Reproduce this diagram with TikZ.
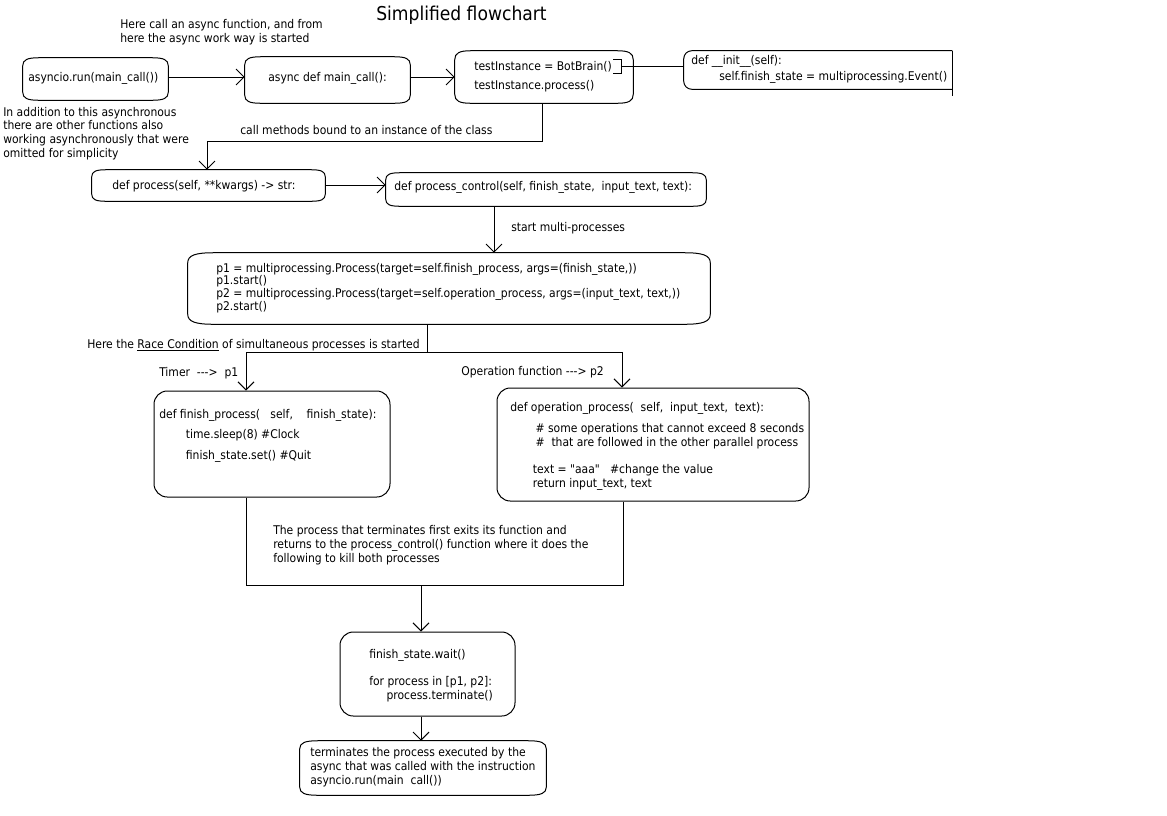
\documentclass[tikz,border=0pt]{standalone}
\usepackage{fontspec}
\setmainfont{DejaVu Sans Condensed}
\usetikzlibrary{arrows.meta,fit}
\newcommand\mlines[2]{\vtop{\baselineskip=#1\lineskiplimit=-10pt\halign{##\hfil\cr#2\crcr}}}
\newcommand\gap[1]{\noalign{\vskip#1}}
\newcommand\dq{\XeTeXglyph\XeTeXglyphindex "quotedbl"\relax}
\newcommand\softbox[3]{%
  \draw[conn] ([shift={(0,#3)}]#1.north west)
    .. controls ([shift={(0,{#3*0.25})}]#1.north west) and ([shift={({#2*0.3},0)}]#1.north west) .. ([shift={(#2,0)}]#1.north west)
    -- ([shift={(-#2,0)}]#1.north east)
    .. controls ([shift={({-#2*0.3},0)}]#1.north east) and ([shift={(0,{#3*0.25})}]#1.north east) .. ([shift={(0,#3)}]#1.north east)
    -- ([shift={(0,-#3)}]#1.south east)
    .. controls ([shift={(0,{-#3*0.25})}]#1.south east) and ([shift={({-#2*0.3},0)}]#1.south east) .. ([shift={(-#2,0)}]#1.south east)
    -- ([shift={(#2,0)}]#1.south west)
    .. controls ([shift={({#2*0.3},0)}]#1.south west) and ([shift={(0,{-#3*0.25})}]#1.south west) .. ([shift={(0,-#3)}]#1.south west)
    -- cycle;}
\tikzset{
  px/.style={x=0.75pt,y=-0.75pt},
  ghost/.style={inner sep=0pt},
  bigbox/.style={draw,line width=0.75pt,rounded corners=10pt,inner sep=0pt},
  txt/.style={inner sep=0pt,anchor=base west,font=\fontsize{9pt}{10.5pt}\selectfont},
  conn/.style={line width=0.75pt},
  arr/.style={line width=0.75pt,-{Straight Barb[length=6pt,width=12pt,line width=0.75pt]}},
}
\begin{document}
\begin{tikzpicture}[px]
\useasboundingbox (0,0) rectangle (1167,815);
% title
\node[inner sep=0pt,anchor=base west,font=\fontsize{14.3pt}{16pt}\selectfont] (title) at (376,20) {Simplified flowchart};
% annotations
\node[txt] (ann1) at (120,28) {\mlines{10.5pt}{Here call an async function, and from\cr here the async work way is started}};
\node[txt] (ann2) at (3,116) {\mlines{10.3pt}{In addition to this asynchronous\cr there are other functions also\cr working asynchronously that were\cr omitted for simplicity}};
% boxes
\node[ghost,fit={(23,58) (168,100)}] (run) {};
\softbox{run}{16}{8}
\node[txt] (runt) at (28,81) {asyncio.run(main\_call())};
\node[ghost,fit={(245,57) (410,103)}] (main) {};
\softbox{main}{16}{8}
\node[txt] (maint) at (268,81) {async def main\_call():};
\node[ghost,fit={(455,51) (633,103)}] (inst) {};
\softbox{inst}{16}{9}
\node[txt] (instt) at (474,70) {\mlines{14.25pt}{testInstance = BotBrain()\cr testInstance.process()}};
\node[ghost,fit={(684,51) (952,89)}] (init) {};
\draw[conn,rounded corners=6pt] (init.north east) -- (init.north west) -- (init.south west) -- (init.south east);
\draw[conn] (init.north east) -- ([yshift=-5pt]init.south east);
\node[txt] (initt) at (691,64) {\mlines{12pt}{def \_\_init\_\_(self):\cr \hspace*{21pt}self.finish\_state = multiprocessing.Event()}};
% bracket
\coordinate (br) at (621,66);
\draw[conn] (613,59) -- (621,59) -- (621,73) -- (613,73);
\draw[conn] (br) -- (br -| init.west);
\node[ghost,fit={(92,170) (325,201)}] (proc) {};
\softbox{proc}{14}{7}
\node[txt] (proct) at (112,189) {def process(self, **kwargs) -> str:};
\node[ghost,fit={(386,173) (706,206)}] (ctrl) {};
\softbox{ctrl}{14}{7}
\node[txt] (ctrlt) at (394,190) {def process\_control(self, finish\_state,~ input\_text, text):};
\node[ghost,fit={(188,253) (710,324)}] (mp) {};
\softbox{mp}{26}{10}
\node[txt] (mpt) at (216,272) {\mlines{9.5pt}{p1 = multiprocessing.Process(target=self.finish\_process, args=(finish\_state,))\cr p1.start()\cr p2 = multiprocessing.Process(target=self.operation\_process, args=(input\_text, text,))\cr p2.start()}};
\node[bigbox,fit={(154,391) (390,497)}] (fin) {};
\node[txt] (fint) at (159,418) {\mlines{15.4pt}{def finish\_process(~~ self,~~~ finish\_state):\cr \hspace*{20pt}time.sleep(8) \#Clock\cr \hspace*{20pt}finish\_state.set() \#Quit}};
\node[bigbox,fit={(497,388) (809,501)}] (op) {};
\node[txt] (opt) at (510,411) {\mlines{10.5pt}{def operation\_process(~ self,~ input\_text,~ text):\cr\gap{5.25pt} \hspace*{19pt}\# some operations that cannot exceed 8 seconds\cr \hspace*{19pt}\#~ that are followed in the other parallel process\cr\gap{9.75pt} \hspace*{17pt}text = \dq aaa\dq~~ \#change the value\cr \hspace*{17pt}return input\_text, text}};
\node[bigbox,fit={(340,632) (515,716)}] (wait) {};
\node[txt] (waitt) at (369,658) {\mlines{10.5pt}{finish\_state.wait()\cr\gap{9.75pt} for process in [p1, p2]:\cr \hspace*{13pt}process.terminate()}};
\node[ghost,fit={(300,741) (546,795)}] (term) {};
\softbox{term}{18}{8}
\node[txt] (termt) at (310,756) {\mlines{10.5pt}{terminates the process executed by the\cr async that was called with the instruction\cr asyncio.run(main~~call())}};
% connectors
\draw[arr] (run.east |- 0,77) -- (main.west |- 0,77);
\draw[arr] (main.east |- 0,77) -- (inst.west |- 0,77);
\coordinate (c1) at (542,141);
\draw[arr] (inst.south -| c1) -- (c1) -- (c1 -| 207,0) -- (proc.north -| 207,0);
\node[txt] (l1) at (240,134) {call methods bound to an instance of the class};
\draw[arr] (proc.east |- 0,185) -- (ctrl.west |- 0,185);
\draw[arr] (ctrl.south -| 494,0) -- (mp.north -| 494,0);
\node[txt] (l2) at (511,231) {start multi-processes};
\coordinate (c2) at (427,352);
\draw[conn] (mp.south -| c2) -- (c2);
\draw[arr] (246,352) -- (fin.north -| 246,0);
\draw[arr] (622,352) -- (op.north -| 622,0);
\draw[conn] (246,352) -- (622,352);
\node[txt] (l3) at (87,348) {Here the \underline{Race Condition} of simultaneous processes is started};
\node[txt] (l4) at (159,376) {Timer~ -{}-{}->~ p1};
\node[txt] (l5) at (461,375) {Operation function -{}-{}-> p2};
\coordinate (c3) at (421,585);
\draw[conn] (fin.south -| 246,0) -- (246,585) -- (623,585) -- (op.south -| 623,0);
\draw[arr] (c3) -- (wait.north -| c3);
\node[txt] (l6) at (273,534) {\mlines{10.5pt}{The process that terminates first exits its function and\cr returns to the process\_control() function where it does the\cr following to kill both processes}};
\draw[arr] (wait.south -| 421,0) -- (term.north -| 421,0);
\end{tikzpicture}
\end{document}
